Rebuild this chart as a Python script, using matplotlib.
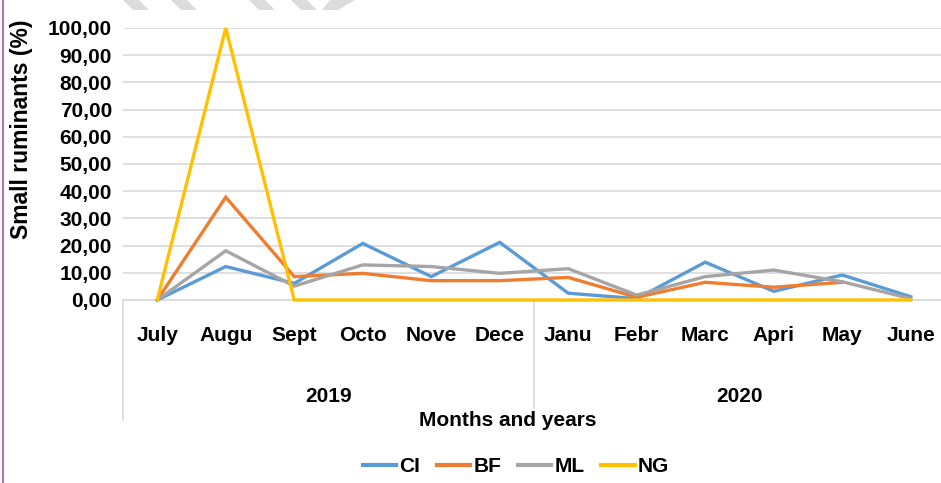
import matplotlib
matplotlib.use("Agg")
import matplotlib.pyplot as plt
from matplotlib.lines import Line2D
from matplotlib.patches import Polygon
import numpy as np

months = ["July", "Augu", "Sept", "Octo", "Nove", "Dece",
          "Janu", "Febr", "Marc", "Apri", "May", "June"]
years = ["2019", "2020"]
yticks = [0, 10, 20, 30, 40, 50, 60, 70, 80, 90, 100]

CI = [0, 12.3, 6.1, 20.8, 8.6, 21.2, 2.5, 0.5, 13.9, 3.2, 9.2, 1.2]
BF = [0, 37.8, 8.6, 9.8, 7.1, 7.1, 8.3, 1.0, 6.5, 4.7, 6.5, np.nan]
ML = [0, 18.1, 5.1, 12.9, 12.3, 9.8, 11.5, 1.8, 8.6, 11.0, 6.7, 0.5]
NG = [0, 100, 0, 0, 0, 0, 0, 0, 0, 0, 0, 0]

series = [("CI", CI, "#5B9BD5"), ("BF", BF, "#ED7D31"),
          ("ML", ML, "#A5A5A5"), ("NG", NG, "#FFC000")]

FAM = ["Liberation Sans Narrow", "Liberation Sans", "DejaVu Sans"]
plt.rcParams["font.family"] = FAM
plt.rcParams["font.weight"] = "bold"

W, H = 941, 483
fig = plt.figure(figsize=(W / 100, H / 100), dpi=100)
x0, x1, ytop, ybot = 123, 945, 28, 300
ax = fig.add_axes([x0 / W, 1 - ybot / H, (x1 - x0) / W, (ybot - ytop) / H])

x = np.arange(len(months))
for name, vals, col in series:
    ax.plot(x, vals, color=col, lw=2.4, label=name, clip_on=False,
            solid_joinstyle="miter", zorder=3)

ax.set_xlim(-0.5, 11.5)
ax.set_ylim(0, 100)
ax.set_yticks(yticks)
ax.set_yticklabels([f"{v:.2f}".replace(".", ",") for v in yticks],
                   fontsize=15, fontweight="bold")
ax.grid(axis="y", color="#D9D9D9", lw=1.2)
ax.set_axisbelow(True)
for s in ["top", "right", "left"]:
    ax.spines[s].set_visible(False)
ax.spines["bottom"].set_color("#D9D9D9")
ax.spines["bottom"].set_linewidth(1.2)
ax.tick_params(axis="y", length=0, pad=8)
ax.tick_params(axis="x", length=0, pad=19)
ax.set_xticks(x)
ax.set_xticklabels(months, fontsize=15, fontweight="bold")

# category separators
trans = ax.get_xaxis_transform()
def ypx(p):
    return -(p - ybot) / (ybot - ytop)
ax.add_line(Line2D([-0.5, -0.5], [0, ypx(420)], transform=trans,
                   color="#D9D9D9", lw=1.2, clip_on=False))
ax.add_line(Line2D([5.5, 5.5], [0, ypx(408)], transform=trans,
                   color="#D9D9D9", lw=1.2, clip_on=False))
ax.text(2.5, ypx(396), years[0], transform=trans, ha="center", va="center",
        fontsize=15, fontweight="bold")
ax.text(8.5, ypx(396), years[1], transform=trans, ha="center", va="center",
        fontsize=15, fontweight="bold")

fig.text(508 / W, 1 - 421 / H, "Months and years", ha="center", va="center",
         fontsize=15, fontweight="bold")
fig.text(22 / W, 1 - 129 / H, "Small ruminants (%)", rotation=90,
         ha="center", va="center", fontsize=16.5, fontweight="bold")

handles = [Line2D([], [], color=c, lw=3) for _, _, c in series]
leg = fig.legend(handles, [n for n, _, _ in series], loc="center",
                 bbox_to_anchor=(516 / W, 1 - 467 / H), ncol=4, frameon=False,
                 fontsize=15, handlelength=1.6, handletextpad=0.15,
                 columnspacing=0.8)
for t in leg.get_texts():
    t.set_fontweight("bold")

# page border line at left
fig.add_artist(Line2D([3 / W, 3 / W], [0, 1], transform=fig.transFigure,
                      color="#B04DB0", lw=1.2))

# watermark stripe fragments at the top edge
for a in [123, 171, 249, 291]:
    pts = [(a, 0), (a + 16, 0), (a + 26, 10), (a + 10, 10)]
    fig.add_artist(Polygon([(px / W, 1 - py / H) for px, py in pts],
                           closed=True, transform=fig.transFigure,
                           facecolor="#DCDCDC", edgecolor="none"))
pts = [(322, 10), (338, 10), (355, 0), (330, 0)]
fig.add_artist(Polygon([(px / W, 1 - py / H) for px, py in pts],
                       closed=True, transform=fig.transFigure,
                       facecolor="#DCDCDC", edgecolor="none"))

fig.savefig("out.png", dpi=100)
